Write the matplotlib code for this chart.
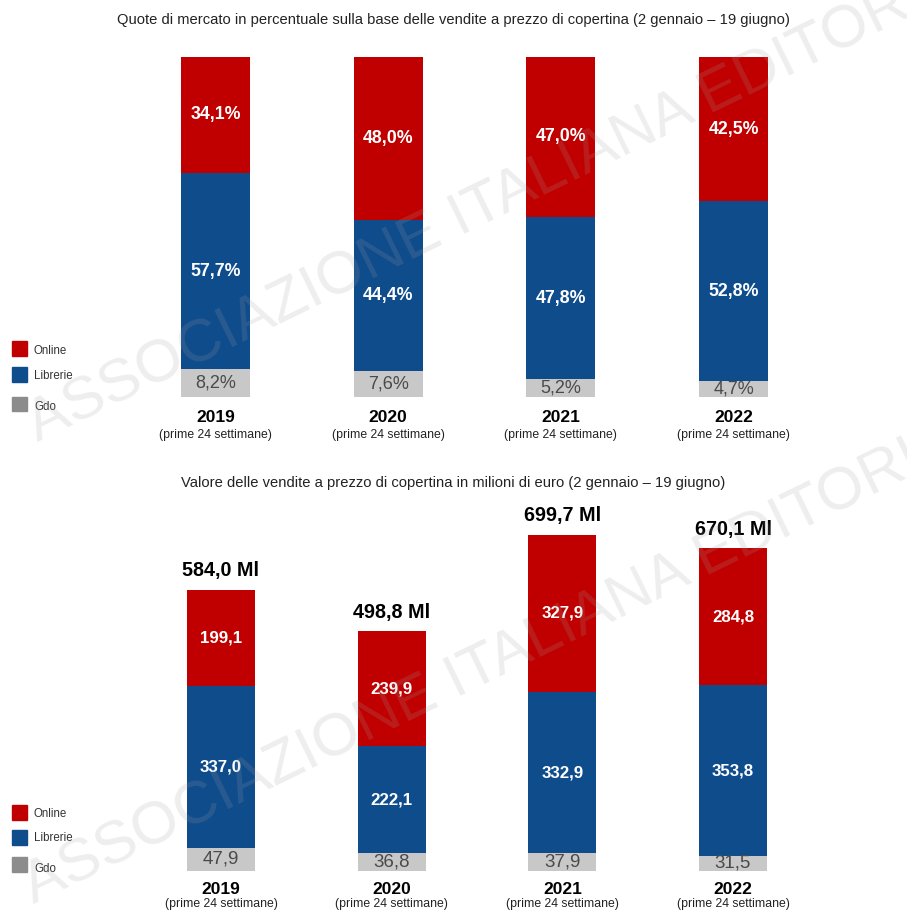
import matplotlib.pyplot as plt
from matplotlib.patches import Rectangle

plt.rcParams['font.family'] = ['Liberation Sans', 'DejaVu Sans']

# Data
years = ['2019', '2020', '2021', '2022']
period_note = '(prime 24 settimane)'
channels = ['Online', 'Librerie', 'Gdo']

share_online = [34.1, 48.0, 47.0, 42.5]
share_librerie = [57.7, 44.4, 47.8, 52.8]
share_gdo = [8.2, 7.6, 5.2, 4.7]

value_online = [199.1, 239.9, 327.9, 284.8]
value_librerie = [337.0, 222.1, 332.9, 353.8]
value_gdo = [47.9, 36.8, 37.9, 31.5]
value_total = [584.0, 498.8, 699.7, 670.1]

title_share = 'Quote di mercato in percentuale sulla base delle vendite a prezzo di copertina (2 gennaio – 19 giugno)'
title_value = 'Valore delle vendite a prezzo di copertina in milioni di euro (2 gennaio – 19 giugno)'

RED = '#c00000'
BLUE = '#0f4c8c'
LIGHT_GRAY = '#c8c8c8'
LEGEND_GRAY = '#8c8c8c'

W, H = 907, 913
fig = plt.figure(figsize=(W / 100, H / 100), dpi=100)


def fx(px):
    return px / W


def fy(py):
    return 1 - py / H


def comma(v, suffix=''):
    return f'{v:.1f}'.replace('.', ',') + suffix


def stacked(ax, gdo, lib, onl, suffix, white_size, gray_size):
    x = range(len(years))
    lib_bottom = gdo
    onl_bottom = [g + l for g, l in zip(gdo, lib)]
    b_gdo = ax.bar(x, gdo, width=0.4, color=LIGHT_GRAY)
    b_lib = ax.bar(x, lib, bottom=lib_bottom, width=0.4, color=BLUE)
    b_onl = ax.bar(x, onl, bottom=onl_bottom, width=0.4, color=RED)
    ax.bar_label(b_gdo, labels=[comma(v, suffix) for v in gdo], label_type='center',
                 color='#4a4a4a', fontsize=gray_size)
    ax.bar_label(b_lib, labels=[comma(v, suffix) for v in lib], label_type='center',
                 color='white', fontsize=white_size, fontweight='bold')
    ax.bar_label(b_onl, labels=[comma(v, suffix) for v in onl], label_type='center',
                 color='white', fontsize=white_size, fontweight='bold')
    ax.axis('off')
    return [o + t for o, t in zip(onl_bottom, onl)]


def year_labels(ax, y_year, y_note):
    for i, yr in enumerate(years):
        xf = fig.transFigure.inverted().transform(ax.transData.transform((i, 0)))[0]
        fig.text(xf, fy(y_year), yr, ha='center', va='center', fontsize=12.5, fontweight='bold')
        fig.text(xf, fy(y_note), period_note, ha='center', va='center', fontsize=8.8, color='#222222')


def legend(y_rows):
    colors = [RED, BLUE, LEGEND_GRAY]
    for (ys, yt), name, c in zip(y_rows, channels, colors):
        fig.add_artist(Rectangle((fx(12), fy(ys + 7.5)), fx(15), 15 / H,
                                 transform=fig.transFigure, color=c))
        fig.text(fx(34), fy(yt), name, ha='left', va='center', fontsize=8.3, color='#333333')


# Market share panel
ax1 = fig.add_axes([0, fy(397), 1, 340 / H])
ax1.set_xlim(-215.5 / 172.7, 3 + (W - 733.5) / 172.7)
ax1.set_ylim(0, 100)
stacked(ax1, share_gdo, share_librerie, share_online, '%', 12.8, 13)
fig.text(0.5, fy(20), title_share, ha='center', va='center', fontsize=10.6, color='#222222')
year_labels(ax1, 418, 435)
legend([(349, 351), (375, 376), (404, 407)])

# Sales value panel
ax2 = fig.add_axes([0, fy(871), 1, 800 * 0.4816 / H])
ax2.set_xlim(-221 / 170.7, 3 + (W - 733) / 170.7)
ax2.set_ylim(0, 800)
tops = stacked(ax2, value_gdo, value_librerie, value_online, '', 12.2, 13.5)
for i, (top, tot) in enumerate(zip(tops, value_total)):
    ax2.annotate(comma(tot, ' Ml'), (i, top), xytext=(0, 13.5), textcoords='offset points',
                 ha='center', va='center', fontsize=14.2, fontweight='bold')
fig.text(0.5, fy(483), title_value, ha='center', va='center', fontsize=10.6, color='#222222')
year_labels(ax2, 889, 904)
legend([(812, 814), (837, 838), (864, 869)])

# Watermark
for x0, y0 in [(38, 443), (34, 905)]:
    fig.text(fx(x0), fy(y0), 'ASSOCIAZIONE ITALIANA EDITORI', rotation=26,
             rotation_mode='anchor', ha='left', va='baseline', fontsize=43.5,
             color='#a0a0a0', alpha=0.18, zorder=10)

fig.savefig('out.png', dpi=100)
